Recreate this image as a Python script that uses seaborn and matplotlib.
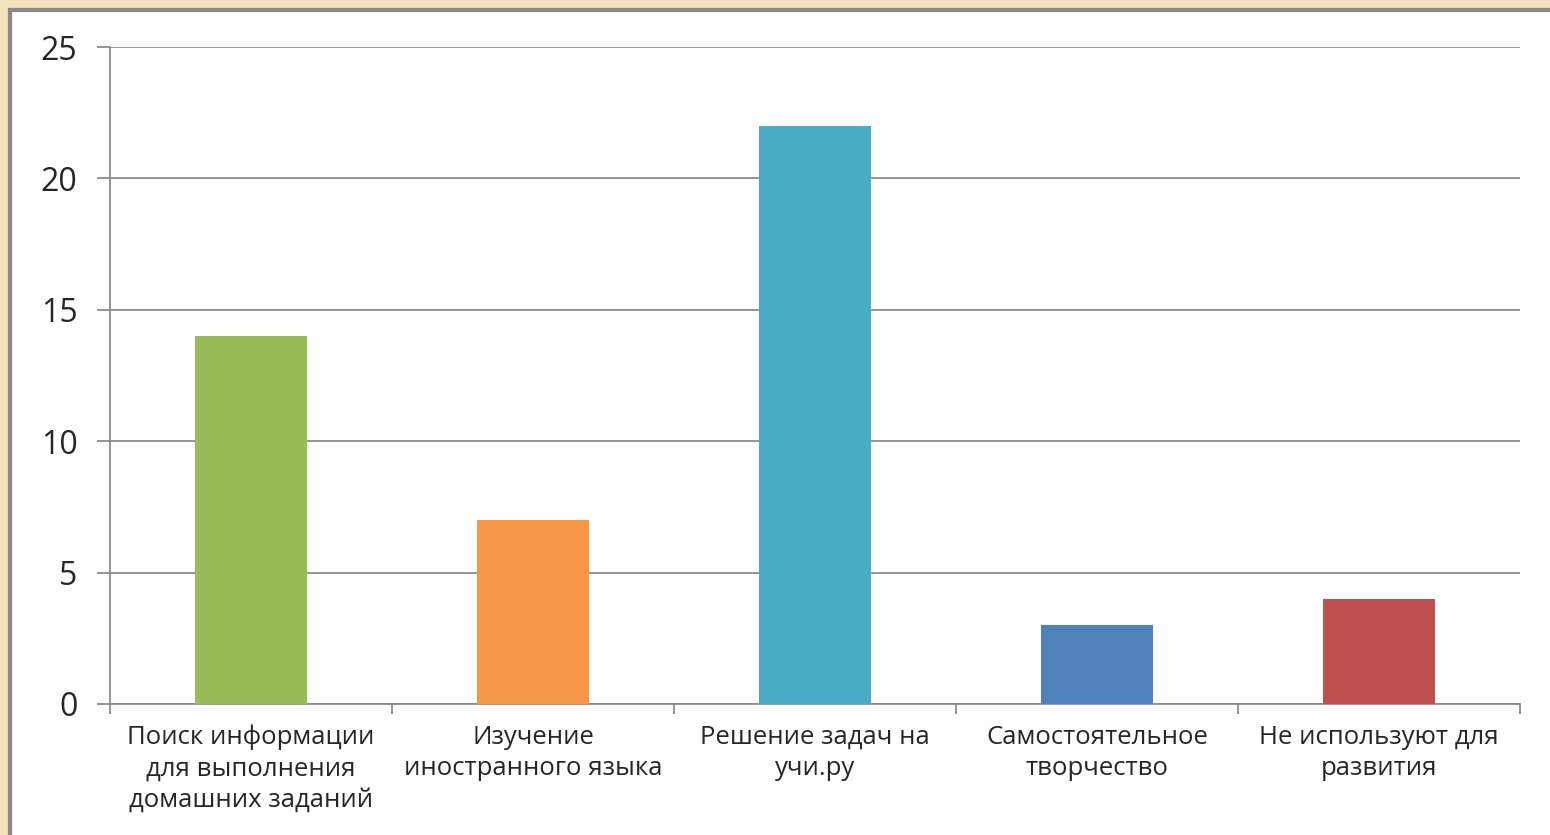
import matplotlib.pyplot as plt
import seaborn as sns
import pandas as pd
from matplotlib.patches import Rectangle

categories = [
    "Поиск информации\nдля выполнения\nдомашних заданий",
    "Изучение\nиностранного языка",
    "Решение задач на\nучи.ру",
    "Самостоятельное\nтворчество",
    "Не используют для\nразвития",
]
values = [14, 7, 22, 3, 4]
colors = ["#9BBB59", "#F79646", "#4BACC6", "#4F81BD", "#C0504D"]
y_ticks = [0, 5, 10, 15, 20, 25]

df = pd.DataFrame({"category": categories, "value": values})

sns.set_theme(style="white")
plt.rcParams["font.family"] = ["Open Sans", "DejaVu Sans"]

fig = plt.figure(figsize=(15.5, 8.35), dpi=100)
fig.patch.set_facecolor("#F2E2C0")

# white slide panel with grey frame
panel = Rectangle((10 / 1550, -0.05), 1.0, 1.05 - 10 / 835, transform=fig.transFigure,
                  facecolor="white", edgecolor="#8A8A8A", linewidth=3, zorder=-10)
fig.patches.append(panel)

ax = fig.add_axes([110 / 1550, 1 - 704 / 835, 1410 / 1550, 657 / 835])
ax.set_facecolor("none")

sns.barplot(data=df, x="category", y="value", hue="category", palette=colors,
            width=0.4, legend=False, ax=ax, zorder=3, saturation=1,
            edgecolor="none", linewidth=0)

ax.set_ylim(0, 25)
ax.set_xlim(-0.5, len(categories) - 0.5)
ax.set_yticks(y_ticks)
ax.yaxis.grid(True, color="#8C8C8C", linewidth=1.3)
ax.set_axisbelow(True)

for side in ["top", "right"]:
    ax.spines[side].set_visible(False)
ax.spines["left"].set_color("#8C8C8C")
ax.spines["bottom"].set_color("#8C8C8C")
ax.spines["left"].set_linewidth(1.3)
ax.spines["bottom"].set_linewidth(1.3)

# boundary ticks on x axis, labels centred under bars
bounds = [i - 0.5 for i in range(len(categories) + 1)]
ax.set_xticks(bounds)
ax.set_xticklabels([""] * len(bounds))
ax.set_xticks(range(len(categories)), minor=True)
ax.set_xticklabels(categories, minor=True, fontsize=18.5, color="#262626", linespacing=1.32)
ax.tick_params(axis="x", which="major", bottom=True, length=7, width=1.3,
               color="#8C8C8C", direction="out")
ax.tick_params(axis="x", which="minor", bottom=True, length=0, pad=15)
ax.tick_params(axis="y", left=True, length=9.5, width=1.3, color="#8C8C8C", direction="out",
               labelsize=23, labelcolor="#262626", pad=14)
ax.set_xlabel("")
ax.set_ylabel("")

fig.savefig("out.png", dpi=100, facecolor=fig.get_facecolor())
